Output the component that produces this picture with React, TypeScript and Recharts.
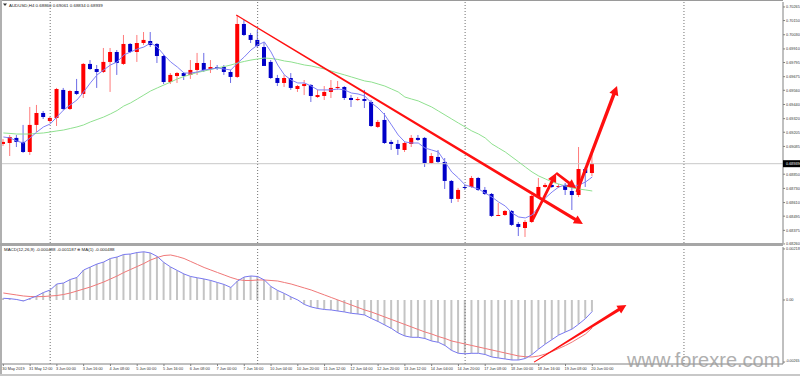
import React from 'react';
import { ComposedChart, Bar, Line, XAxis, YAxis, ReferenceLine } from 'recharts';

const SLOTS = 117; // visible bar slots, incl. the empty shift area on the right
const FONT = '"Liberation Sans", Arial, sans-serif';
const FS = 4.4; // titles
const AX = 3.85; // axis labels

// AUDUSD H4, bars from 30 May 2019 20:00 to 20 Jun 2019 00:00
const opens = [
  0.69106, 0.69114, 0.69157, 0.69123, 0.69038, 0.69267, 0.69368, 0.69300, 0.69326, 0.69563,
  0.69402, 0.69554, 0.69529, 0.69783, 0.69740, 0.69715, 0.69800, 0.69884, 0.69783, 0.69952,
  0.69884, 0.69960, 0.69977, 0.69952, 0.69850, 0.69630, 0.69681, 0.69706, 0.69690, 0.69732,
  0.69791, 0.69740, 0.69757, 0.69757, 0.69715, 0.69673, 0.70121, 0.70028, 0.69986, 0.69926,
  0.69800, 0.69664, 0.69622, 0.69664, 0.69571, 0.69596, 0.69605, 0.69503, 0.69512, 0.69546,
  0.69580, 0.69588, 0.69495, 0.69478, 0.69486, 0.69461, 0.69250, 0.69309, 0.69123, 0.69106,
  0.69055, 0.69106, 0.69157, 0.69157, 0.68945, 0.68996, 0.68954, 0.68793, 0.68641, 0.68742,
  0.68742, 0.68818, 0.68717, 0.68683, 0.68501, 0.68505, 0.68539, 0.68429, 0.68395, 0.68446,
  0.68657, 0.68742, 0.68759, 0.68742, 0.68759, 0.68708, 0.68674, 0.68894, 0.68860,
];
const highs = [
  0.69148, 0.69182, 0.69182, 0.69267, 0.69419, 0.69436, 0.69385, 0.69334, 0.69580, 0.69580,
  0.69563, 0.69656, 0.69791, 0.69816, 0.69774, 0.69918, 0.69918, 0.69901, 0.70028, 0.69960,
  0.70028, 0.70053, 0.70053, 0.69960, 0.69859, 0.69706, 0.69715, 0.69715, 0.69816, 0.69876,
  0.69876, 0.69816, 0.69774, 0.69774, 0.69732, 0.70197, 0.70155, 0.70045, 0.70070, 0.69969,
  0.69816, 0.69690, 0.69690, 0.69706, 0.69605, 0.69647, 0.69613, 0.69563, 0.69596, 0.69647,
  0.69639, 0.69596, 0.69520, 0.69503, 0.69563, 0.69478, 0.69309, 0.69368, 0.69140, 0.69140,
  0.69123, 0.69182, 0.69182, 0.69165, 0.69030, 0.69055, 0.68987, 0.68801, 0.68734, 0.68759,
  0.68835, 0.68827, 0.68742, 0.68691, 0.68607, 0.68547, 0.68547, 0.68446, 0.68463, 0.68674,
  0.68818, 0.68776, 0.68776, 0.68767, 0.68776, 0.68742, 0.69080, 0.68911, 0.69061,
];
const lows = [
  0.69089, 0.69004, 0.69080, 0.69030, 0.69013, 0.69207, 0.69317, 0.69292, 0.69258, 0.69393,
  0.69393, 0.69520, 0.69495, 0.69732, 0.69580, 0.69706, 0.69546, 0.69690, 0.69774, 0.69876,
  0.69800, 0.69943, 0.69926, 0.69791, 0.69613, 0.69613, 0.69622, 0.69647, 0.69656, 0.69690,
  0.69715, 0.69706, 0.69732, 0.69690, 0.69622, 0.69664, 0.70019, 0.69960, 0.69918, 0.69800,
  0.69656, 0.69596, 0.69588, 0.69563, 0.69546, 0.69520, 0.69461, 0.69495, 0.69478, 0.69495,
  0.69563, 0.69478, 0.69419, 0.69470, 0.69410, 0.69250, 0.69241, 0.69106, 0.69055, 0.69013,
  0.69038, 0.69080, 0.69131, 0.68911, 0.68937, 0.68945, 0.68725, 0.68607, 0.68615, 0.68717,
  0.68734, 0.68708, 0.68674, 0.68488, 0.68497, 0.68497, 0.68412, 0.68327, 0.68319, 0.68437,
  0.68649, 0.68734, 0.68734, 0.68734, 0.68674, 0.68547, 0.68657, 0.68742, 0.68834,
];
const closes = [
  0.69123, 0.69165, 0.69123, 0.69038, 0.69267, 0.69368, 0.69334, 0.69326, 0.69571, 0.69402,
  0.69554, 0.69529, 0.69783, 0.69740, 0.69715, 0.69800, 0.69884, 0.69791, 0.69952, 0.69884,
  0.69960, 0.69986, 0.69943, 0.69850, 0.69630, 0.69690, 0.69706, 0.69681, 0.69732, 0.69791,
  0.69732, 0.69757, 0.69749, 0.69715, 0.69673, 0.70121, 0.70028, 0.69986, 0.69935, 0.69766,
  0.69664, 0.69622, 0.69664, 0.69580, 0.69596, 0.69613, 0.69512, 0.69520, 0.69546, 0.69580,
  0.69588, 0.69495, 0.69478, 0.69486, 0.69470, 0.69258, 0.69292, 0.69114, 0.69106, 0.69064,
  0.69114, 0.69157, 0.69140, 0.68945, 0.69004, 0.68954, 0.68793, 0.68641, 0.68717, 0.68734,
  0.68818, 0.68717, 0.68683, 0.68497, 0.68505, 0.68539, 0.68421, 0.68404, 0.68446, 0.68666,
  0.68742, 0.68759, 0.68742, 0.68750, 0.68717, 0.68674, 0.68894, 0.68860, 0.68939,
];
const maFast = [
  0.69165, 0.69157, 0.69131, 0.69114, 0.69157, 0.69207, 0.69250, 0.69275, 0.69334, 0.69393,
  0.69436, 0.69478, 0.69546, 0.69622, 0.69690, 0.69732, 0.69774, 0.69800, 0.69859, 0.69884,
  0.69909, 0.69926, 0.69960, 0.69926, 0.69859, 0.69800, 0.69757, 0.69706, 0.69706, 0.69715,
  0.69732, 0.69740, 0.69749, 0.69740, 0.69732, 0.69791, 0.69842, 0.69901, 0.69943, 0.69969,
  0.69884, 0.69774, 0.69690, 0.69647, 0.69622, 0.69622, 0.69596, 0.69563, 0.69563, 0.69563,
  0.69571, 0.69563, 0.69537, 0.69529, 0.69512, 0.69453, 0.69410, 0.69351, 0.69267, 0.69182,
  0.69123, 0.69114, 0.69114, 0.69072, 0.69055, 0.69038, 0.68954, 0.68869, 0.68818, 0.68759,
  0.68742, 0.68725, 0.68691, 0.68657, 0.68615, 0.68581, 0.68522, 0.68488, 0.68480, 0.68505,
  0.68573, 0.68649, 0.68700, 0.68742, 0.68759, 0.68742, 0.68759, 0.68784, 0.68827,
];
const maSlow = [
  0.69199, 0.69195, 0.69190, 0.69190, 0.69190, 0.69195, 0.69199, 0.69207, 0.69216, 0.69224,
  0.69237, 0.69250, 0.69267, 0.69292, 0.69313, 0.69334, 0.69360, 0.69389, 0.69427, 0.69453,
  0.69486, 0.69520, 0.69554, 0.69580, 0.69605, 0.69630, 0.69656, 0.69677, 0.69694, 0.69711,
  0.69723, 0.69736, 0.69749, 0.69761, 0.69774, 0.69791, 0.69804, 0.69816, 0.69825, 0.69833,
  0.69829, 0.69821, 0.69808, 0.69800, 0.69787, 0.69774, 0.69766, 0.69753, 0.69740, 0.69723,
  0.69706, 0.69690, 0.69673, 0.69656, 0.69639, 0.69630, 0.69613, 0.69596, 0.69571, 0.69546,
  0.69503, 0.69486, 0.69470, 0.69444, 0.69419, 0.69385, 0.69351, 0.69317, 0.69283, 0.69250,
  0.69216, 0.69190, 0.69157, 0.69106, 0.69072, 0.69038, 0.68996, 0.68954, 0.68911, 0.68869,
  0.68835, 0.68810, 0.68784, 0.68767, 0.68750, 0.68734, 0.68725, 0.68717, 0.68708,
];
const macdMain = [
  0.000073, 0.000056, 0.000021, -0.000043, 0.000064, 0.000171, 0.000320, 0.000427, 0.000683, 0.000726,
  0.000875, 0.000961, 0.001281, 0.001409, 0.001537, 0.001623, 0.001772, 0.001836, 0.001943, 0.001964,
  0.002028, 0.002058, 0.002007, 0.001857, 0.001601, 0.001409, 0.001260, 0.001110, 0.001003, 0.000948,
  0.000897, 0.000833, 0.000747, 0.000662, 0.000534, 0.000811, 0.000982, 0.001025, 0.001003, 0.000854,
  0.000576, 0.000406, 0.000278, 0.000128, 0.000000, -0.000192, -0.000299, -0.000363, -0.000406, -0.000427,
  -0.000470, -0.000512, -0.000568, -0.000598, -0.000641, -0.000790, -0.000918, -0.001068, -0.001217, -0.001409,
  -0.001537, -0.001593, -0.001593, -0.001644, -0.001751, -0.001806, -0.001943, -0.002156, -0.002276, -0.002297,
  -0.002276, -0.002276, -0.002327, -0.002434, -0.002477, -0.002519, -0.002562, -0.002562, -0.002498, -0.002327,
  -0.002092, -0.001879, -0.001687, -0.001495, -0.001366, -0.001238, -0.001025, -0.000790, -0.000488,
];
const macdSignal = [
  0.000299, 0.000256, 0.000214, 0.000171, 0.000149, 0.000141, 0.000149, 0.000171, 0.000192, 0.000235,
  0.000299, 0.000384, 0.000470, 0.000555, 0.000662, 0.000769, 0.000897, 0.001025, 0.001174, 0.001302,
  0.001430, 0.001559, 0.001708, 0.001815, 0.001900, 0.001922, 0.001857, 0.001772, 0.001644, 0.001516,
  0.001388, 0.001281, 0.001174, 0.001068, 0.000961, 0.000875, 0.000833, 0.000833, 0.000854, 0.000854,
  0.000833, 0.000811, 0.000747, 0.000683, 0.000598, 0.000512, 0.000427, 0.000320, 0.000214, 0.000107,
  0.000000, -0.000107, -0.000214, -0.000320, -0.000427, -0.000512, -0.000619, -0.000726, -0.000833, -0.000939,
  -0.001046, -0.001153, -0.001260, -0.001366, -0.001452, -0.001559, -0.001644, -0.001751, -0.001815, -0.001879,
  -0.001943, -0.002007, -0.002071, -0.002135, -0.002199, -0.002263, -0.002327, -0.002391, -0.002421, -0.002434,
  -0.002391, -0.002306, -0.002199, -0.002071, -0.001943, -0.001793, -0.001623, -0.001452, -0.001187,
];

// one label every 4 bars
const timeLabels = [
  '30 May 2019', '31 May 12:00', '3 Jun 00:00', '3 Jun 16:00', '4 Jun 08:00', '5 Jun 00:00',
  '5 Jun 16:00', '6 Jun 08:00', '7 Jun 00:00', '7 Jun 16:00', '10 Jun 04:00', '10 Jun 20:00',
  '11 Jun 12:00', '12 Jun 04:00', '12 Jun 20:00', '13 Jun 12:00', '14 Jun 04:00', '14 Jun 20:00',
  '17 Jun 08:00', '18 Jun 00:00', '18 Jun 16:00', '19 Jun 08:00', '20 Jun 00:00',
];
const priceTicks = [
  0.70265, 0.70150, 0.70030, 0.69910, 0.69795, 0.69675, 0.69560, 0.69440, 0.69320,
  0.69205, 0.69085, 0.68850, 0.68730, 0.68610, 0.68495, 0.68375, 0.68260,
];
const macdTicks = [0.00218, 0, -0.00265];
const weekSeparators = [7, 38, 69, 101.7];

// hand drawn arrows: bar index / price
const priceArrows = [
  { x1: 34.8, y1: 0.70197, x2: 86.6, y2: 0.68429, w0: 1.2, w1: 3.2 },
  { x1: 79.1, y1: 0.68463, x2: 82.6, y2: 0.68860, w0: 2.5, w1: 3 },
  { x1: 82.6, y1: 0.68860, x2: 85.6, y2: 0.68731, w0: 2.5, w1: 3 },
  { x1: 85.7, y1: 0.68700, x2: 91.7, y2: 0.69596, w0: 3, w1: 3.5 },
];
const macdArrows = [{ x1: 79.3, y1: -0.00265, x2: 93.1, y2: -0.00021, w0: 1, w1: 3 }];

const lastClose = closes[closes.length - 1];
const priceDomain = [0.68268, 0.70307];
const macdDomain = [-0.002733, 0.002263];

const priceRows = Array.from({ length: SLOTS }, (_, i) =>
  i < closes.length
    ? { i, o: opens[i], h: highs[i], l: lows[i], c: closes[i], hl: [lows[i], highs[i]], fast: maFast[i], slow: maSlow[i] }
    : { i });
const macdRows = Array.from({ length: SLOTS }, (_, i) =>
  i < macdMain.length ? { i, macd: macdMain[i], sig: macdSignal[i] } : { i });
const timeTicks = timeLabels.map((_, k) => k * 4);

function Candle(props: any) {
  const { x, y, width, height, payload } = props;
  if (!payload || payload.hl == null) return <g />;
  const top = Math.min(y, y + height);
  const span = Math.abs(height);
  const { o, h, l, c } = payload;
  const k = span / (h - l);
  const yAt = (v: number) => top + (h - v) * k;
  const up = c >= o;
  const cx = x + width / 2;
  const b0 = yAt(Math.max(o, c));
  const b1 = yAt(Math.min(o, c));
  return (
    <g>
      <line x1={cx} x2={cx} y1={top} y2={top + span} stroke={up ? '#ff7b7b' : '#6b6be6'} strokeWidth={1} />
      <rect x={cx - 2} y={b0} width={4} height={Math.max(1, b1 - b0)} fill={up ? '#ff0000' : '#0000c8'} />
    </g>
  );
}

function arrowShape(w0: number, w1: number) {
  return (p: any) => {
    const { x1, y1, x2, y2 } = p;
    const dx = x2 - x1;
    const dy = y2 - y1;
    const len = Math.hypot(dx, dy) || 1;
    const ux = dx / len, uy = dy / len, nx = -uy, ny = ux;
    const hl = Math.min(9, len * 0.4);
    const hw = w1 / 2 + 3;
    const bx = x2 - ux * hl, by = y2 - uy * hl;
    const pts = [
      [x1 + (nx * w0) / 2, y1 + (ny * w0) / 2],
      [bx + (nx * w1) / 2, by + (ny * w1) / 2],
      [bx + nx * hw, by + ny * hw],
      [x2, y2],
      [bx - nx * hw, by - ny * hw],
      [bx - (nx * w1) / 2, by - (ny * w1) / 2],
      [x1 - (nx * w0) / 2, y1 - (ny * w0) / 2],
    ].map((q) => q.join(',')).join(' ');
    return <polygon points={pts} fill="#ff1010" />;
  };
}

function PriceTick(props: any) {
  const { x, y, payload } = props;
  const v = payload.value;
  if (v === lastClose) {
    return (
      <g>
        <rect x={x - 3} y={y - 3.5} width={17} height={7} fill="#000" />
        <text x={x} y={y} dy="0.35em" fontSize={AX} fontFamily={FONT} fill="#fff">{v.toFixed(5)}</text>
      </g>
    );
  }
  return (
    <text x={x} y={y} dy="0.35em" fontSize={AX} fontFamily={FONT} fill="#333">{v.toFixed(5)}</text>
  );
}

function MacdTick(props: any) {
  const { x, y, payload } = props;
  const v = payload.value;
  const s = v === 0 ? '0.00' : v.toFixed(5);
  if (v < 0) {
    return <text x={799.5} y={y} dy="0.1em" textAnchor="end" fontSize={AX - 0.3} fontFamily={FONT} fill="#333">{s}</text>;
  }
  return <text x={x} y={y} dy="0.35em" fontSize={AX} fontFamily={FONT} fill="#333">{s}</text>;
}

function TimeTick(props: any) {
  const { x, y, payload } = props;
  const label = timeLabels[payload.value / 4];
  return (
    <text x={x - 1} y={y} dy="0.75em" fontSize={AX} fontFamily={FONT} fill="#333">{label}</text>
  );
}

export default function App() {
  return (
    <div style={{ position: 'absolute', left: 0, top: 0, width: 800, height: 376, background: '#fff', overflow: 'hidden' }}>
      <div style={{ position: 'absolute', left: 0, top: 0 }}>
        <ComposedChart width={800} height={247} data={priceRows} margin={{ top: 2, right: 0, bottom: 4, left: 0 }}>
          <XAxis dataKey="i" hide />
          <XAxis xAxisId="num" dataKey="i" type="number" domain={[-0.5, SLOTS - 0.5]} allowDataOverflow hide />
          <YAxis orientation="right" width={17} domain={priceDomain} allowDataOverflow ticks={[...priceTicks, lastClose]}
            interval={0} tickSize={2} tickMargin={1} axisLine={{ stroke: '#808080' }} tickLine={{ stroke: '#808080' }}
            tick={<PriceTick />} />
          {weekSeparators.map((s) => (
            <ReferenceLine key={s} xAxisId="num" x={s} stroke="#707070" strokeDasharray="1 2" />
          ))}
          <ReferenceLine y={lastClose} stroke="#c8c8c8" />
          <Line dataKey="slow" stroke="#8fe08f" strokeWidth={1} dot={false} isAnimationActive={false} />
          <Bar dataKey="hl" barSize={4} shape={<Candle />} isAnimationActive={false} />
          <Line dataKey="fast" stroke="#8080f4" strokeWidth={1} dot={false} isAnimationActive={false} />
          {priceArrows.map((a, k) => (
            <ReferenceLine key={k} xAxisId="num" ifOverflow="visible"
              segment={[{ x: a.x1, y: a.y1 }, { x: a.x2, y: a.y2 }]} shape={arrowShape(a.w0, a.w1)} />
          ))}
        </ComposedChart>
      </div>
      <div style={{ position: 'absolute', left: 0, top: 245 }}>
        <ComposedChart width={800} height={131} data={macdRows} margin={{ top: 2, right: 0, bottom: 0, left: 0 }}>
          <XAxis dataKey="i" height={12} ticks={timeTicks} interval={0} tickSize={2} tickMargin={1}
            axisLine={{ stroke: '#808080' }} tickLine={{ stroke: '#808080' }} tick={<TimeTick />} />
          <XAxis xAxisId="num" dataKey="i" type="number" domain={[-0.5, SLOTS - 0.5]} allowDataOverflow hide />
          <YAxis orientation="right" width={17} domain={macdDomain} allowDataOverflow ticks={macdTicks} interval={0}
            tickSize={2} tickMargin={1} axisLine={{ stroke: '#808080' }} tickLine={{ stroke: '#808080' }} tick={<MacdTick />} />
          {weekSeparators.map((s) => (
            <ReferenceLine key={s} xAxisId="num" x={s} stroke="#707070" strokeDasharray="1 2" />
          ))}
          <Bar dataKey="macd" barSize={2} fill="#c4c4c4" isAnimationActive={false} />
          <Line dataKey="sig" stroke="#f07878" strokeWidth={1} dot={false} isAnimationActive={false} />
          <Line dataKey="macd" stroke="#7878f0" strokeWidth={1} dot={false} isAnimationActive={false} />
          {macdArrows.map((a, k) => (
            <ReferenceLine key={k} xAxisId="num" ifOverflow="visible"
              segment={[{ x: a.x1, y: a.y1 }, { x: a.x2, y: a.y2 }]} shape={arrowShape(a.w0, a.w1)} />
          ))}
        </ComposedChart>
      </div>
      {/* frame */}
      <div style={{ position: 'absolute', left: 0, top: 0, width: 783, height: 1, background: '#9a9a9a' }} />
      <div style={{ position: 'absolute', left: 0, top: 0, width: 2, height: 376, background: '#b0b0b0' }} />
      <div style={{ position: 'absolute', left: 0, top: 243, width: 783, height: 3, background: '#a6a6a6' }} />
      <div style={{ position: 'absolute', left: 0, top: 374, width: 800, height: 2, background: '#c8c8c8' }} />
      <svg width={800} height={376} style={{ position: 'absolute', left: 0, top: 0, pointerEvents: 'none' }}>
        <path d="M3,3.5 L7,3.5 L5,6 Z" fill="#333" />
        <text x={9} y={5} dy="0.35em" fontSize={FS} fontFamily={FONT} fill="#222">
          AUDUSD,H4  0.68860 0.69061 0.68834 0.68939
        </text>
        <text x={4} y={249.5} dy="0.35em" fontSize={FS} fontFamily={FONT} fill="#222">
          MACD(12,26,9) -0.000488 -0.001187 ⊕ MA(1) -0.000488
        </text>
        <text x={627} y={367} fontSize={20} fontFamily={FONT} fill="#9c9c9c" opacity={0.8}>www.forexre.com</text>
      </svg>
    </div>
  );
}
